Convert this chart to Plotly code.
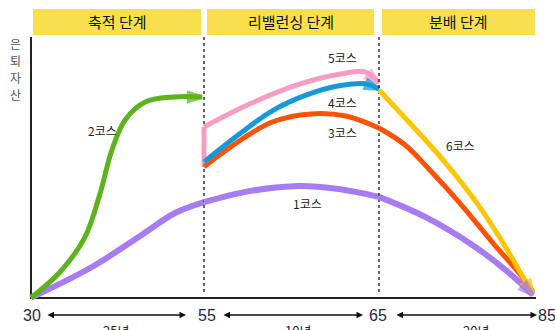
import plotly.graph_objects as go

W, H = 555, 330

# ---------------- data (age, relative retirement assets 0-100) ----------------
phase_bounds = [30, 55, 65, 85]
phase_names = ["축적 단계", "리밸런싱 단계", "분배 단계"]
phase_years = ["25년", "10년", "20년"]
tick_ages = ["30", "55", "65", "85"]
y_title = "은퇴자산"

ages_1 = [30, 38.8, 46.0, 50.8, 55, 57.6, 60.4, 62.7, 65, 71.0, 77.5, 81.9, 85]
course_1 = [0, 11.8, 24.1, 32.5, 36.7, 40.9, 42.9, 41.7, 38.7, 31.0, 19.5, 9.5, 1.1]

ages_2 = [30, 34.2, 37.8, 40.0, 41.7, 43.6, 46.5, 50.5, 54.7]
course_2 = [0, 9.9, 23.3, 40.2, 56.7, 68.2, 75.1, 77.0, 77.0]

ages_3 = [55, 57.1, 58.9, 61.1, 63.1, 65, 68.4, 71.6, 75.5, 79.8, 83.3, 85]
course_3 = [50.2, 60.5, 67.4, 70.5, 69.7, 65.1, 58.6, 49.0, 36.3, 21.0, 9.1, 2.2]

ages_4 = [55, 57.1, 58.9, 60.9, 62.8, 64.2, 65]
course_4 = [52.1, 63.2, 71.7, 77.9, 81.4, 82.1, 80.1]

ages_5 = [55, 55, 57.6, 60.5, 62.8, 64.2, 65]
course_5 = [50.2, 65.5, 74.3, 82.0, 85.8, 86.6, 82.4]

ages_6 = [65, 69.0, 73.3, 77.7, 81.1, 83.7, 85]
course_6 = [79.7, 67.0, 52.9, 36.4, 21.1, 8.0, 1.5]

course_names = ["1코스", "2코스", "3코스", "4코스", "5코스", "6코스"]

# ---------------- layout helpers ----------------
FONT = "Liberation Sans, Arial, Noto Sans CJK KR, sans-serif"
KFONT = "Noto Sans CJK KR, Liberation Sans, sans-serif"
seg_px = [(31, 204), (204, 379), (379, 533)]   # pixel extents of each phase
PAD = 12
Y_TOP, Y_BOT = 37, 303
YR = [-2, 100]


def fx(p):
    return p / W


def fy(p):
    return 1 - p / H


axes = {}
for i, ((a, b), (p0, p1)) in enumerate(zip(zip(phase_bounds[:-1], phase_bounds[1:]), seg_px)):
    s = (p1 - p0) / (b - a)
    name = "xaxis" if i == 0 else f"xaxis{i+1}"
    axes[name] = dict(domain=[fx(p0 - PAD), fx(p1 + PAD)], range=[a - PAD / s, b + PAD / s],
                      visible=False, anchor="y", fixedrange=True)
xrefs = ["x", "x2", "x3"]

fig = go.Figure()


def add_series(ages, vals, color, width=5, linear_start=0):
    if linear_start:
        fig.add_trace(go.Scatter(
            x=ages[:linear_start + 1], y=vals[:linear_start + 1], mode="lines",
            line=dict(color=color, width=width), xaxis="x2", yaxis="y",
            hoverinfo="skip", showlegend=False))
        ages, vals = ages[linear_start:], vals[linear_start:]
    for i, (a, b) in enumerate(zip(phase_bounds[:-1], phase_bounds[1:])):
        pts = [(x, y) for x, y in zip(ages, vals) if a <= x <= b]
        if len(pts) >= 2 and max(p[0] for p in pts) > min(p[0] for p in pts):
            fig.add_trace(go.Scatter(
                x=[p[0] for p in pts], y=[p[1] for p in pts], mode="lines",
                line=dict(color=color, width=width, shape="spline", smoothing=1.0),
                xaxis=xrefs[i], yaxis="y", hoverinfo="skip", showlegend=False))


def add_head(ages, vals, color, size=14):
    a = ages[-1]
    idx = 0
    for i, (lo, hi) in enumerate(zip(phase_bounds[:-1], phase_bounds[1:])):
        if lo < a <= hi:
            idx = i
    fig.add_trace(go.Scatter(
        x=ages[-2:], y=vals[-2:], mode="markers",
        marker=dict(symbol="arrow", size=[0, size], angleref="previous", color=color,
                    line=dict(width=3.5, color=color)),
        xaxis=xrefs[idx], yaxis="y", cliponaxis=False, hoverinfo="skip", showlegend=False))


C1, C2, C3, C4, C5, C6 = "#A77CF2", "#5CB31B", "#FF5200", "#1799D9", "#F79CC2", "#FFC600"

add_series(ages_5, course_5, C5, linear_start=1)
add_series(ages_3, course_3, C3)
add_series(ages_6, course_6, C6)
add_series(ages_1, course_1, C1, 6)
add_series(ages_4, course_4, C4)
add_series(ages_2, course_2, C2)

add_head(ages_5, course_5, C5)
add_head(ages_4, course_4, C4)
add_head(ages_6, course_6, C6)
add_head(ages_1, course_1, C1)
add_head(ages_2, course_2, C2)

shapes = []
# axis lines
shapes.append(dict(type="line", xref="paper", yref="paper", x0=fx(31), x1=fx(31), y0=fy(37), y1=fy(298),
                   line=dict(color="#222", width=2), layer="below"))
shapes.append(dict(type="line", xref="paper", yref="paper", x0=fx(30), x1=fx(536), y0=fy(298), y1=fy(298),
                   line=dict(color="#222", width=2), layer="below"))
# phase boundary dotted lines
for xr, a in [("x2", phase_bounds[1]), ("x3", phase_bounds[2])]:
    shapes.append(dict(type="line", xref=xr, yref="y", x0=a, x1=a, y0=2.2, y1=100,
                       line=dict(color="#333", width=1.5, dash="dot"), layer="below"))
# header boxes
head_px = [(33, 201), (207, 374), (382, 535)]
annotations = []
for (h0, h1), name in zip(head_px, phase_names):
    shapes.append(dict(type="rect", xref="paper", yref="paper", x0=fx(h0), x1=fx(h1), y0=fy(35), y1=fy(9),
                       fillcolor="#F9DF4E", line=dict(width=0), layer="below"))
    annotations.append(dict(xref="paper", yref="paper", x=fx((h0 + h1) / 2), y=fy(22), text=name,
                            showarrow=False, font=dict(family=KFONT, size=15, color="#111"),
                            xanchor="center", yanchor="middle"))

# y title (one character per line)
for ch, p in zip(list(y_title), [44, 61, 78, 95]):
    annotations.append(dict(xref="paper", yref="paper", x=fx(15), y=fy(p), text=ch,
                            showarrow=False, font=dict(family=KFONT, size=12, color="#555"),
                            xanchor="center", yanchor="middle", borderpad=0))

# bottom age labels
age_px = [32, 207, 378, 547]
for p, t in zip(age_px, tick_ages):
    annotations.append(dict(xref="paper", yref="paper", x=fx(p), y=fy(315), text=t, showarrow=False,
                            font=dict(family=FONT, size=16, color="#1F2A48"), xanchor="center", yanchor="middle"))
# double arrows
arr_px = [(46, 186), (222, 363), (395, 537)]
for a0, a1 in arr_px:
    annotations.append(dict(xref="paper", yref="paper", x=fx(a1), y=fy(315), ax=a0 - a1, ay=0,
                            text="", showarrow=True, arrowhead=2, arrowside="end+start",
                            arrowsize=1, arrowwidth=1.3, arrowcolor="#111"))
year_px = [116, 298, 476]
for p, t in zip(year_px, phase_years):
    annotations.append(dict(xref="paper", yref="paper", x=fx(p), y=fy(319), text=t, showarrow=False,
                            font=dict(family=KFONT, size=13, color="#222"), xanchor="center", yanchor="top"))

# course labels (paper pixel positions)
lab_px = {"1코스": (307, 203), "2코스": (102, 130), "3코스": (342, 132),
          "4코스": (342, 102), "5코스": (342, 57), "6코스": (460, 145)}
for n in course_names:
    px_, py_ = lab_px[n]
    annotations.append(dict(xref="paper", yref="paper", x=fx(px_), y=fy(py_), text=n, showarrow=False,
                            font=dict(family=KFONT, size=12, color="#222"),
                            xanchor="center", yanchor="middle"))

fig.update_layout(
    width=W, height=H, margin=dict(l=0, r=0, t=0, b=0),
    paper_bgcolor="white", plot_bgcolor="rgba(0,0,0,0)",
    yaxis=dict(domain=[fy(Y_BOT), fy(Y_TOP)], range=YR, visible=False, anchor="x", fixedrange=True),
    shapes=shapes, annotations=annotations, showlegend=False,
    **axes,
)

fig.write_html("out.html", config={"displayModeBar": False})
